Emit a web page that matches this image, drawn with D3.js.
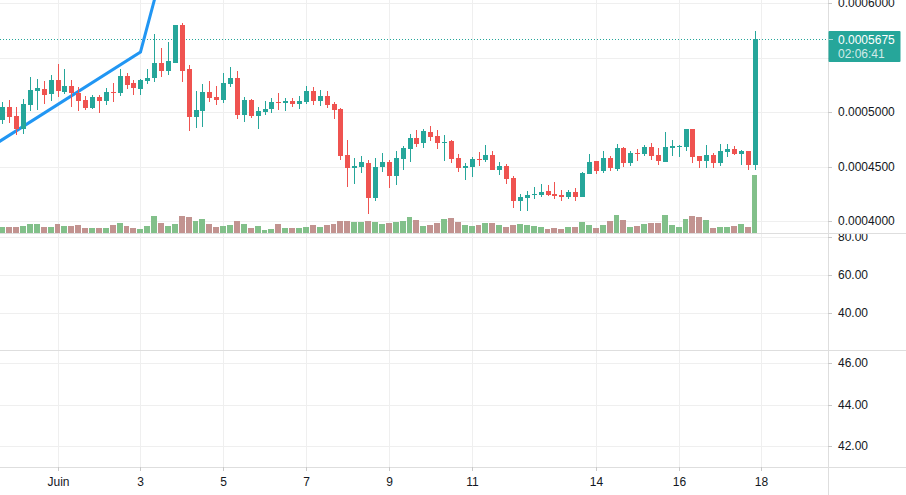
<!DOCTYPE html>
<html>
<head>
<meta charset="utf-8">
<script src="https://cdnjs.cloudflare.com/ajax/libs/d3/7.8.5/d3.min.js"></script>
<style>
  html, body { margin: 0; padding: 0; background: #fff; overflow: hidden; }
  text { font-family: "Liberation Sans", Arial, sans-serif; font-size: 12px; fill: #131722; }
  .axis line { stroke: #c9c9c9; }
  .axis path { display: none; }
</style>
</head>
<body>
<div id="chart"></div>
<script>
'use strict';

// prices are written in units of 0.0000001, one candle every 4 hours
var priceUnit = 1e-7;

var opens = [4931,5050,4968,4849,5069,5197,5216,5170,5298,5188,5243,5179,5115,5041,5142,5105,5188,5179,5335,5271,
  5216,5289,5316,5454,5381,5454,5803,5399,4959,5014,5188,5142,5115,5261,5316,4977,5115,4968,5005,5032,
  5096,5087,5105,5078,5096,5197,5105,5151,5078,5032,4610,4491,4500,4537,4216,4494,4546,4417,4573,4665,
  4766,4720,4821,4784,4720,4738,4583,4491,4500,4573,4564,4610,4472,4509,4399,4188,4216,4243,4243,4280,
  4252,4243,4225,4271,4225,4436,4555,4463,4583,4482,4674,4537,4628,4619,4683,4610,4546,4674,4683,4683,
  4849,4601,4555,4610,4537,4638,4665,4619,4647,4518];
var highs = [5096,5115,5050,5124,5323,5304,5286,5341,5442,5396,5298,5231,5151,5160,5160,5222,5267,5396,5359,5298,
  5304,5396,5720,5592,5647,5803,5821,5436,5197,5261,5289,5243,5362,5417,5381,5142,5124,5050,5105,5133,
  5179,5133,5133,5151,5243,5234,5206,5197,5096,5041,4748,4583,4601,4564,4583,4628,4564,4647,4693,4803,
  4839,4849,4876,4839,4794,4748,4619,4537,4592,4638,4702,4647,4546,4527,4417,4252,4280,4316,4344,4335,
  4362,4289,4289,4307,4454,4619,4555,4647,4601,4711,4683,4647,4665,4702,4720,4674,4821,4748,4702,4849,
  4849,4601,4702,4628,4711,4711,4693,4656,4647,5748];
var lows = [4894,4904,4794,4803,5014,5023,5078,5105,5142,5170,5050,5014,5023,5032,4995,5069,5096,5151,5216,5160,
  5160,5261,5280,5326,5344,5454,5280,4830,4858,4867,5096,5069,5087,5234,4940,4913,4949,4849,4977,4995,
  5023,5014,5050,5032,5078,5069,5060,5041,4940,4564,4316,4344,4445,4069,4188,4454,4307,4335,4472,4546,
  4683,4674,4738,4665,4555,4537,4454,4381,4408,4509,4546,4472,4427,4344,4124,4096,4096,4206,4225,4234,
  4206,4188,4206,4188,4225,4436,4436,4445,4463,4463,4500,4509,4555,4601,4564,4518,4546,4601,4592,4647,
  4537,4491,4491,4491,4509,4592,4610,4518,4472,4472];
var closes = [5050,4959,4849,5078,5206,5225,5160,5298,5197,5243,5179,5105,5041,5142,5105,5188,5179,5335,5252,5225,
  5298,5316,5454,5381,5472,5803,5381,4959,5023,5188,5133,5115,5271,5316,4977,5115,4968,5014,5032,5096,
  5087,5105,5078,5105,5197,5105,5151,5069,5023,4601,4491,4509,4546,4216,4500,4546,4417,4583,4674,4766,
  4711,4830,4775,4720,4729,4573,4491,4509,4573,4564,4610,4472,4509,4390,4188,4225,4243,4252,4271,4243,
  4234,4225,4271,4225,4445,4546,4463,4583,4491,4674,4537,4628,4619,4683,4601,4555,4683,4693,4693,4849,
  4592,4555,4610,4537,4647,4665,4619,4647,4518,5675];
var volumes = [60,60,60,70,90,90,60,60,90,70,70,80,50,50,50,50,80,100,70,50,
  40,70,170,100,70,90,170,160,120,140,90,60,70,80,120,90,50,70,30,40,
  90,50,50,50,60,80,60,80,90,120,120,110,110,120,110,90,100,110,120,160,
  130,70,80,100,140,150,110,80,70,80,100,100,80,60,80,90,80,70,60,40,
  50,40,60,60,110,80,50,80,120,180,130,60,70,90,100,100,180,80,60,140,
  170,160,130,50,60,60,70,90,60,580];

// the blue line only has three points in view
var lineIndex = [-1, 20, 24];
var lineValues = [4705, 5555, 6518];

var timeTicks = [8, 20, 32, 44, 56, 68, 86, 98, 110];
var timeLabels = ['Juin', '3', '5', '7', '9', '11', '14', '16', '18'];
var priceTicks = [0.0006, 0.00055, 0.0005, 0.00045, 0.0004];
var priceLabels = ['0.0006000', '', '0.0005000', '0.0004500', '0.0004000'];
var rsiTicks = [80, 60, 40];
var lowerTicks = [46, 44, 42];
var lastPrice = '0.0005675';
var countdown = '02:06:41';

var width = 906,
    height = 495,
    plotRight = 828,
    upColor = '#26a69a',
    downColor = '#ef5350',
    upVolume = '#82c08a',
    downVolume = '#c29390',
    gridColor = '#efefef',
    borderColor = '#dedede';

var x = d3.scaleLinear().domain([0, 110]).rangeRound([2.35, 761.46]);
var y = d3.scaleLinear().domain([0.0006, 0.0004]).rangeRound([3.2, 221.2]);
var yVolume = d3.scaleLinear().domain([0, 580]).rangeRound([233, 175]);
var yRsi = d3.scaleLinear().domain([80, 40]).rangeRound([237, 313]);
var yLower = d3.scaleLinear().domain([46, 42]).rangeRound([363, 446]);

var svg = d3.select('#chart').append('svg')
  .attr('width', width)
  .attr('height', height)
  .style('display', 'block');

var defs = svg.append('defs');
defs.append('clipPath').attr('id', 'main-clip').append('rect')
  .attr('width', plotRight).attr('height', 233);
defs.append('clipPath').attr('id', 'rsi-clip').append('rect')
  .attr('y', 234).attr('width', width).attr('height', 116);

// grid
var grid = svg.append('g');
grid.selectAll('.v').data(timeTicks).enter().append('line')
  .attr('x1', function(d) { return x(d) + 0.5; })
  .attr('x2', function(d) { return x(d) + 0.5; })
  .attr('y1', 0).attr('y2', 467)
  .attr('stroke', gridColor);

function hGrid(ticks, scale) {
  grid.selectAll(null).data(ticks).enter().append('line')
    .attr('x1', 0).attr('x2', plotRight)
    .attr('y1', function(d) { return scale(d) + 0.5; })
    .attr('y2', function(d) { return scale(d) + 0.5; })
    .attr('stroke', gridColor);
}
hGrid(priceTicks, y);
hGrid(rsiTicks, yRsi);
hGrid(lowerTicks, yLower);

var plot = svg.append('g').attr('clip-path', 'url(#main-clip)');
var idx = d3.range(opens.length);

function isUp(i) { return closes[i] >= opens[i]; }

// volume
plot.selectAll('.vol').data(idx).enter().append('rect')
  .attr('x', function(i) { return x(i) - 3; })
  .attr('width', function(i) { return x(i + 1) - x(i) - 1; })
  .attr('y', function(i) { return yVolume(volumes[i]); })
  .attr('height', function(i) { return 233 - yVolume(volumes[i]); })
  .attr('fill', function(i) { return isUp(i) ? upVolume : downVolume; });

// last price dotted line
plot.append('line')
  .attr('x1', 0).attr('x2', plotRight)
  .attr('y1', y(closes[109] * priceUnit) + 0.5)
  .attr('y2', y(closes[109] * priceUnit) + 0.5)
  .attr('stroke', upColor)
  .attr('stroke-dasharray', '1,2');

// blue line
var blue = d3.line()
  .x(function(d, i) { return x(lineIndex[i]) + 0.5; })
  .y(function(d) { return y(d * priceUnit); });
plot.append('path')
  .attr('d', blue(lineValues))
  .attr('fill', 'none')
  .attr('stroke', '#2196f3')
  .attr('stroke-width', 3);

// candles
plot.selectAll('.wick').data(idx).enter().append('rect')
  .attr('x', function(i) { return x(i); })
  .attr('width', 1)
  .attr('y', function(i) { return y(highs[i] * priceUnit); })
  .attr('height', function(i) { return y(lows[i] * priceUnit) - y(highs[i] * priceUnit); })
  .attr('fill', function(i) { return isUp(i) ? upColor : downColor; });

plot.selectAll('.body').data(idx).enter().append('rect')
  .attr('x', function(i) { return x(i) - 2; })
  .attr('width', 5)
  .attr('y', function(i) { return y(Math.max(opens[i], closes[i]) * priceUnit); })
  .attr('height', function(i) {
    return Math.max(1, y(Math.min(opens[i], closes[i]) * priceUnit) - y(Math.max(opens[i], closes[i]) * priceUnit));
  })
  .attr('fill', function(i) { return isUp(i) ? upColor : downColor; });

// pane borders
[233, 350, 467].forEach(function(v) {
  svg.append('line')
    .attr('x1', 0).attr('x2', width)
    .attr('y1', v + 0.5).attr('y2', v + 0.5)
    .attr('stroke', borderColor);
});
svg.append('line')
  .attr('x1', plotRight + 0.5).attr('x2', plotRight + 0.5)
  .attr('y1', 0).attr('y2', height)
  .attr('stroke', borderColor);

// axes
var priceAxis = d3.axisRight(y)
  .tickValues(priceTicks)
  .tickFormat(function(d, i) { return priceLabels[i]; })
  .tickSize(4).tickPadding(6);
svg.append('g').attr('class', 'axis')
  .attr('transform', 'translate(' + plotRight + ',0)')
  .call(priceAxis);

svg.append('g').attr('clip-path', 'url(#rsi-clip)')
  .append('g').attr('class', 'axis')
  .attr('transform', 'translate(' + plotRight + ',0)')
  .call(d3.axisRight(yRsi).tickValues(rsiTicks).tickFormat(d3.format('.2f')).tickSize(4).tickPadding(6));

svg.append('g').attr('class', 'axis')
  .attr('transform', 'translate(' + plotRight + ',0)')
  .call(d3.axisRight(yLower).tickValues(lowerTicks).tickFormat(d3.format('.2f')).tickSize(4).tickPadding(6));

svg.append('g').attr('class', 'axis')
  .attr('transform', 'translate(0,467)')
  .call(d3.axisBottom(x).tickValues(timeTicks)
    .tickFormat(function(d, i) { return timeLabels[i]; })
    .tickSize(4).tickPadding(6));

svg.selectAll('.axis text').style('font-size', '12px').style('fill', '#131722')
  .style('font-family', '"Liberation Sans", Arial, sans-serif');

// last price tag
svg.append('rect')
  .attr('x', plotRight + 0.5).attr('y', 31)
  .attr('width', 72).attr('height', 31)
  .attr('rx', 1)
  .attr('fill', upColor);
svg.append('line')
  .attr('x1', plotRight + 1).attr('x2', plotRight + 5)
  .attr('y1', y(closes[109] * priceUnit) + 0.5)
  .attr('y2', y(closes[109] * priceUnit) + 0.5)
  .attr('stroke', '#a8dbd6');
svg.append('text')
  .attr('x', 838).attr('y', 40).attr('dy', '0.35em')
  .style('fill', '#fff')
  .text(lastPrice);
svg.append('text')
  .attr('x', 838).attr('y', 54).attr('dy', '0.35em')
  .style('fill', '#fff').style('fill-opacity', 0.8)
  .text(countdown);
</script>
</body>
</html>
